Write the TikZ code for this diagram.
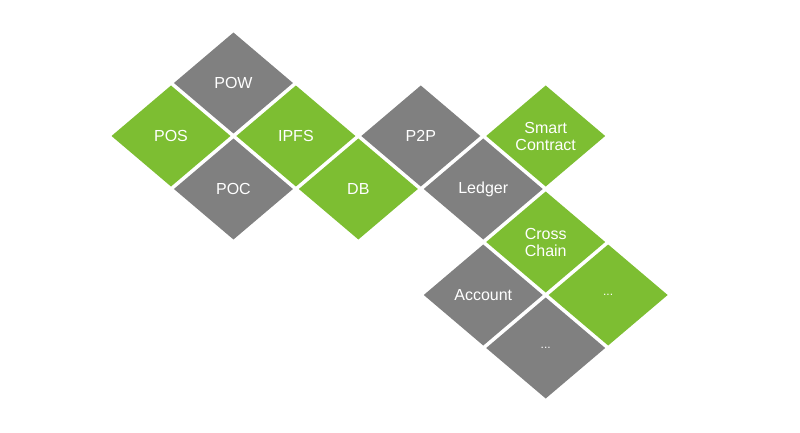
\documentclass[tikz,border=0pt]{standalone}
\usepackage{fontspec}
\setmainfont{Liberation Sans}
\definecolor{tgreen}{RGB}{125,190,50}
\definecolor{tgray}{RGB}{128,128,128}
\tikzset{
  lbl/.style={text=white,font=\fontsize{16}{17}\selectfont,align=center,inner sep=0pt},
}
\newcommand{\tile}[4]{% name, i, j, colour
  \fill[#4] ({171+62.45*#2-59.5},{83+53*#3}) -- ({171+62.45*#2},{83+53*#3-50.5}) -- ({171+62.45*#2+59.5},{83+53*#3}) -- ({171+62.45*#2},{83+53*#3+50.5}) -- cycle;
  \coordinate (#1) at ({171+62.45*#2},{83+53*#3});
}
\begin{document}
\begin{tikzpicture}[x=1pt,y=-1pt]
\useasboundingbox (0,0) rectangle (800,433);
\tile{pow}{1}{0}{tgray}
\tile{pos}{0}{1}{tgreen}
\tile{ipfs}{2}{1}{tgreen}
\tile{poc}{1}{2}{tgray}
\tile{db}{3}{2}{tgreen}
\tile{p2p}{4}{1}{tgray}
\tile{smart}{6}{1}{tgreen}
\tile{ledger}{5}{2}{tgray}
\tile{cross}{6}{3}{tgreen}
\tile{account}{5}{4}{tgray}
\tile{more1}{7}{4}{tgreen}
\tile{more2}{6}{5}{tgray}
\node[lbl] (tpow) at (pow) {POW};
\node[lbl] (tpos) at (pos) {POS};
\node[lbl] (tipfs) at (ipfs) {IPFS};
\node[lbl] (tpoc) at (poc) {POC};
\node[lbl] (tdb) at (db) {DB};
\node[lbl] (tp2p) at (p2p) {P2P};
\node[lbl] (tsmart) at (smart) {Smart\\Contract};
\node[lbl] (tledger) at (ledger) {Ledger};
\node[lbl] (tcross) at (cross) {Cross\\Chain};
\node[lbl] (taccount) at (account) {Account};
\node[lbl,font=\fontsize{12}{14}\selectfont] (tmore1) at (more1) {...};
\node[lbl,font=\fontsize{12}{14}\selectfont] (tmore2) at (more2) {...};
\end{tikzpicture}
\end{document}
